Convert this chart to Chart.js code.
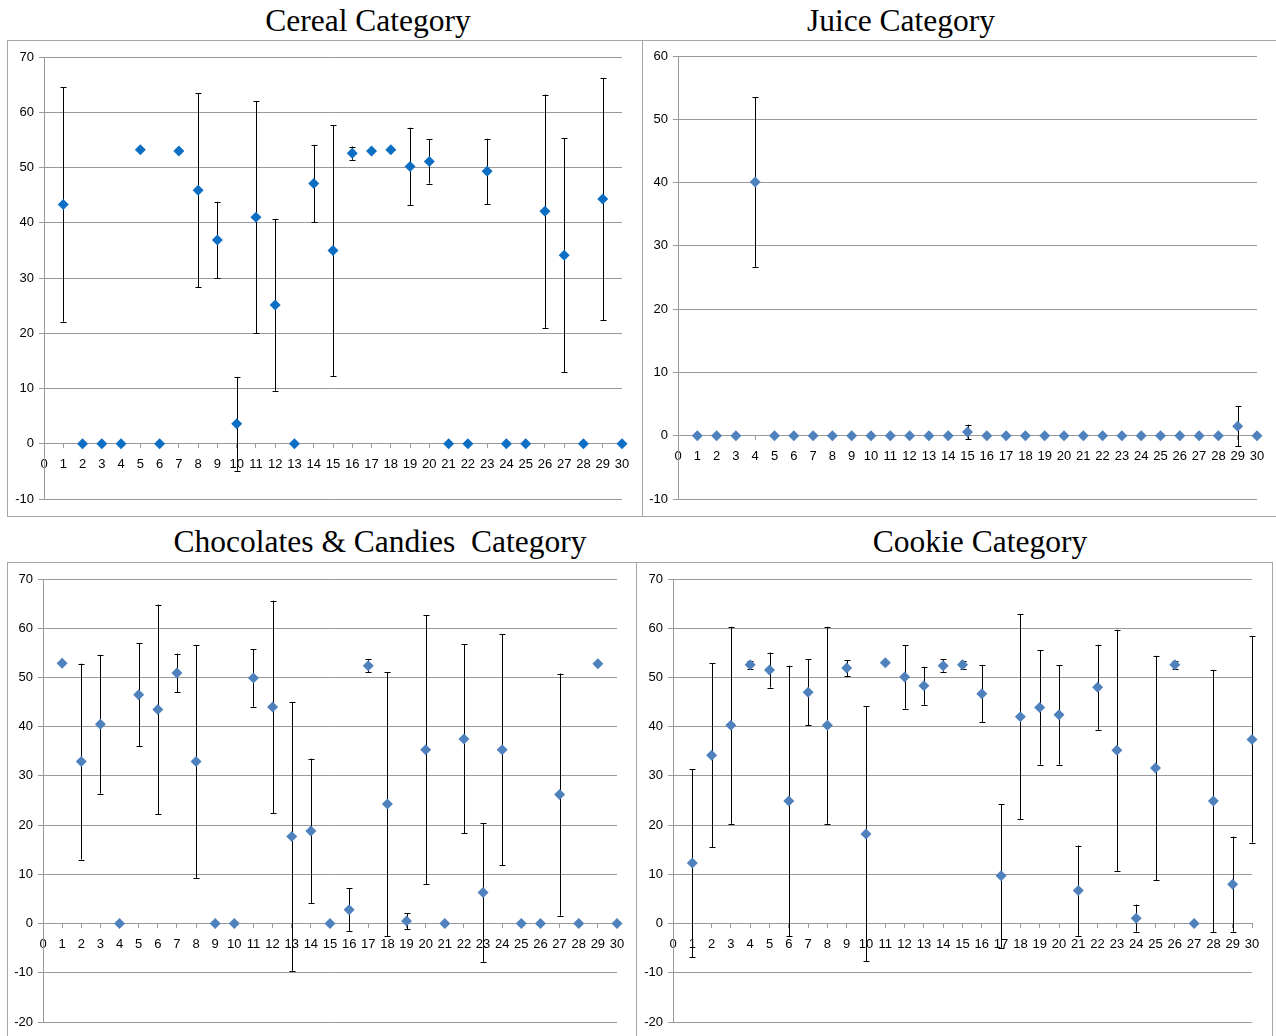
<!DOCTYPE html>
<html>
<head>
<meta charset="utf-8">
<script src="https://cdn.jsdelivr.net/npm/chart.js@4.4.1/dist/chart.umd.min.js"></script>
<style>
  body { margin: 0; background: #fff; width: 1276px; height: 1036px; position: relative; overflow: hidden; }
  .frame { position: absolute; border: 1px solid #a6a6a6; box-sizing: border-box; }
  .title { position: absolute; font-family: "Liberation Serif", "DejaVu Serif", serif; font-size: 31.5px; line-height: 31px; color: #000; white-space: pre; transform: translateX(-50%); }
  canvas { position: absolute; }
</style>
</head>
<body>
<div class="title" style="left:368px; top:5px">Cereal Category</div>
<div class="title" style="left:901px; top:5px">Juice Category</div>
<div class="title" style="left:380px; top:526px">Chocolates &amp; Candies  Category</div>
<div class="title" style="left:980px; top:526px">Cookie Category</div>

<div class="frame" style="left:7px; top:40px; width:636px; height:477px"></div>
<div class="frame" style="left:642px; top:40px; width:640px; height:477px"></div>
<div class="frame" style="left:7px; top:562px; width:630px; height:490px"></div>
<div class="frame" style="left:636px; top:562px; width:637px; height:490px"></div>

<canvas id="cereal" width="635" height="477" style="left:7px; top:40px"></canvas>
<canvas id="juice" width="634" height="477" style="left:642px; top:40px"></canvas>
<canvas id="choc" width="629" height="474" style="left:7px; top:562px"></canvas>
<canvas id="cookie" width="636" height="474" style="left:636px; top:562px"></canvas>

<script>
// x positions 1..30
const items = Array.from({ length: 30 }, (_, i) => i + 1);

// Cereal: mean and +/- error
const cerealVals = [43.3, 0, 0, 0, 53.2, 0, 53.0, 45.9, 36.9, 3.6, 41.0, 25.1, 0, 47.1, 35.0,
  52.6, 53.0, 53.2, 50.2, 51.1, 0, 0, 49.3, 0, 0, 42.1, 34.1, 0, 44.3, 0];
const cerealErr = [21.2, 0, 0, 0, 0, 0, 0, 17.6, 6.9, 8.5, 21.0, 15.5, 0, 7.0, 22.7,
  1.2, 0, 0, 7.0, 4.0, 0, 0, 5.9, 0, 0, 21.1, 21.2, 0, 21.9, 0];

// Juice
const juiceVals = [0, 0, 0, 40.1, 0, 0, 0, 0, 0, 0, 0, 0, 0, 0, 0.6,
  0, 0, 0, 0, 0, 0, 0, 0, 0, 0, 0, 0, 0, 1.5, 0];
const juiceErr = [0, 0, 0, 13.4, 0, 0, 0, 0, 0, 0, 0, 0, 0, 0, 1.15,
  0, 0, 0, 0, 0, 0, 0, 0, 0, 0, 0, 0, 0, 3.2, 0];

// Chocolates & Candies
const chocVals = [52.9, 32.9, 40.5, 0, 46.5, 43.5, 50.9, 32.9, 0, 0, 49.9, 44.0, 17.7, 18.8, 0,
  2.8, 52.4, 24.3, 0.5, 35.3, 0, 37.5, 6.3, 35.3, 0, 0, 26.2, 0, 52.8, 0];
const chocErr = [0, 19.9, 14.1, 0, 10.5, 21.3, 3.95, 23.6, 0, 0, 5.85, 21.6, 27.3, 14.7, 0,
  4.4, 1.3, 26.8, 1.6, 27.3, 0, 19.2, 14.1, 23.5, 0, 0, 24.6, 0, 0, 0];

// Cookie
const cookieVals = [12.3, 34.2, 40.3, 52.6, 51.5, 24.9, 47.0, 40.3, 51.9, 18.2, 53.0, 50.1, 48.3, 52.4, 52.6,
  46.7, 9.7, 42.0, 43.9, 42.4, 6.7, 48.0, 35.2, 1.1, 31.6, 52.6, 0, 24.9, 8.0, 37.4];
const cookieErr = [19.1, 18.7, 20.0, 0.8, 3.55, 27.5, 6.7, 20.0, 1.65, 25.9, 0, 6.45, 3.85, 1.25, 0.8,
  5.85, 14.6, 20.85, 11.6, 10.1, 9.15, 8.65, 24.5, 2.75, 22.8, 0.8, 0, 26.65, 9.65, 20.95];

const tickFont = { family: '"Liberation Sans Narrow", "Liberation Sans", sans-serif', size: 13 };
const gridCol = '#999999';

// draws vertical error bars with caps, using the chart's own scales
const errorBars = {
  id: 'errorBars',
  beforeDatasetsDraw(chart, args, opts) {
    const { ctx, scales: { x, y } } = chart;
    const vals = chart.data.datasets[0].data;
    ctx.save();
    ctx.strokeStyle = '#000';
    ctx.lineWidth = 1;
    opts.err.forEach((e, i) => {
      if (!e) return;
      const px = Math.round(x.getPixelForValue(vals[i].x)) + 0.5;
      const top = y.getPixelForValue(vals[i].y + e);
      const bot = y.getPixelForValue(vals[i].y - e);
      ctx.beginPath();
      ctx.moveTo(px, top); ctx.lineTo(px, bot);
      ctx.moveTo(px - 3, Math.round(top) + 0.5); ctx.lineTo(px + 3, Math.round(top) + 0.5);
      ctx.moveTo(px - 3, Math.round(bot) + 0.5); ctx.lineTo(px + 3, Math.round(bot) + 0.5);
      ctx.stroke();
    });
    ctx.restore();
  }
};

function makeChart(id, vals, errs, color, yMin, yMax, pad, axisW) {
  new Chart(document.getElementById(id), {
    type: 'scatter',
    data: {
      datasets: [{
        data: items.map((n, i) => ({ x: n, y: vals[i] })),
        backgroundColor: color,
        borderColor: color,
        pointStyle: 'rectRot',
        pointRadius: 5.5,
        pointBorderWidth: 0,
        clip: false
      }]
    },
    options: {
      responsive: false,
      animation: false,
      layout: { padding: pad },
      plugins: {
        legend: { display: false },
        tooltip: { enabled: false },
        errorBars: { err: errs }
      },
      scales: {
        x: {
          type: 'linear',
          min: 0, max: 30,
          position: { y: 0 },
          ticks: { stepSize: 1, autoSkip: false, maxRotation: 0, color: '#000', font: tickFont, padding: 9 },
          grid: { drawOnChartArea: false, drawTicks: true, tickLength: 4, color: gridCol },
          border: { color: gridCol }
        },
        y: {
          min: yMin, max: yMax,
          ticks: { stepSize: 10, color: '#000', font: tickFont, padding: 5 },
          grid: { color: gridCol, tickLength: 5 },
          border: { color: gridCol },
          afterFit: (s) => { s.width = axisW; }
        }
      }
    },
    plugins: [errorBars]
  });
}

makeChart('cereal', cerealVals, cerealErr, '#0d6fc4', -10, 70, { top: 17, right: 20, bottom: 18, left: 0 }, 37);
makeChart('juice', juiceVals, juiceErr, '#4f81bd', -10, 60, { top: 16, right: 19, bottom: 18, left: 0 }, 36);
makeChart('choc', chocVals, chocErr, '#4f81bd', -20, 70, { top: 17, right: 19, bottom: 14, left: 0 }, 36);
makeChart('cookie', cookieVals, cookieErr, '#4f81bd', -20, 70, { top: 17, right: 20, bottom: 14, left: 0 }, 37);
</script>
</body>
</html>
